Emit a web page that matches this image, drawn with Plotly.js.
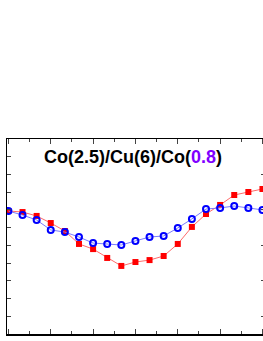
<!DOCTYPE html>
<html>
<head>
<meta charset="utf-8">
<script src="https://cdn.plot.ly/plotly-3.0.1.min.js"></script>
<style>
html,body{margin:0;padding:0;overflow:hidden;background:#fff;}
#chart{width:280px;height:341px;}
</style>
</head>
<body>
<div id="chart"></div>
<script>
// Data (arbitrary units)
const xIndex = [0,1,2,3,4,5,6,7,8,9,10,11,12,13,14,15,16,17,18];
const blueSeries = [6.94,6.71,6.43,5.87,5.75,5.47,5.13,5.08,5.02,5.25,5.47,5.53,5.98,6.49,7.05,7.11,7.22,7.11,7.00];
const redSeries  = [6.94,6.88,6.66,6.26,5.81,5.08,4.79,4.29,3.84,4.06,4.17,4.40,5.08,6.04,6.77,7.28,7.84,8.01,8.18];
const titleMain = "Co(2.5)/Cu(6)/Co(";
const titleHighlight = "0.8";
const titleEnd = ")";

const traces = [
  {
    x: xIndex, y: redSeries, type: 'scatter', mode: 'lines+markers',
    line: {color: '#ff6a6a', width: 1},
    marker: {symbol: 'square', size: 6, color: '#ff0000'},
    hoverinfo: 'skip', showlegend: false
  },
  {
    x: xIndex, y: blueSeries, type: 'scatter', mode: 'lines+markers',
    line: {color: '#7a7aff', width: 1},
    marker: {symbol: 'circle-open', size: 6, color: '#0000ff', line: {width: 2, color: '#0000ff'}},
    hoverinfo: 'skip', showlegend: false
  },
  {
    x: [0], y: [0], yaxis: 'y2', type: 'scatter', mode: 'markers',
    marker: {opacity: 0}, hoverinfo: 'skip', showlegend: false
  }
];

const layout = {
  width: 280, height: 341,
  margin: {l: 7, r: 15, t: 139, b: 7, pad: 0},
  paper_bgcolor: '#fff', plot_bgcolor: '#fff',
  font: {family: 'Liberation Sans, Arial, sans-serif', color: '#000'},
  xaxis: {
    range: [-0.1, 18.18], showgrid: false, zeroline: false,
    showline: true, linecolor: '#000', linewidth: 1.5, mirror: 'ticks',
    ticks: 'inside', dtick: 3, tick0: 0, ticklen: 5, tickwidth: 1, tickcolor: '#444',
    minor: {dtick: 1.5, tick0: 0, ticks: 'inside', ticklen: 3, tickwidth: 1, tickcolor: '#444'},
    showticklabels: false
  },
  yaxis: {
    range: [0, 11], showgrid: false, zeroline: false,
    showline: true, linecolor: '#000', linewidth: 1.5, mirror: true,
    ticks: 'inside', dtick: 1, tick0: 0, ticklen: 4, tickwidth: 1, tickcolor: '#444',
    showticklabels: false
  },
  yaxis2: {
    overlaying: 'y', side: 'right', range: [0, 11], showgrid: false, zeroline: false,
    showline: false, ticks: 'inside', dtick: 2, tick0: 1, ticklen: 4, tickwidth: 1, tickcolor: '#444',
    showticklabels: false
  },
  annotations: [{
    xref: 'paper', yref: 'paper', x: 0.488, y: 0.908, xanchor: 'center', yanchor: 'middle',
    showarrow: false,
    text: '<b>' + titleMain + '<span style="color:#8000ff">' + titleHighlight + '</span>' + titleEnd + '</b>',
    font: {size: 18, color: '#000', family: 'Liberation Sans, Arial, sans-serif'}
  }]
};

Plotly.newPlot('chart', traces, layout, {staticPlot: true, displayModeBar: false});
</script>
</body>
</html>
